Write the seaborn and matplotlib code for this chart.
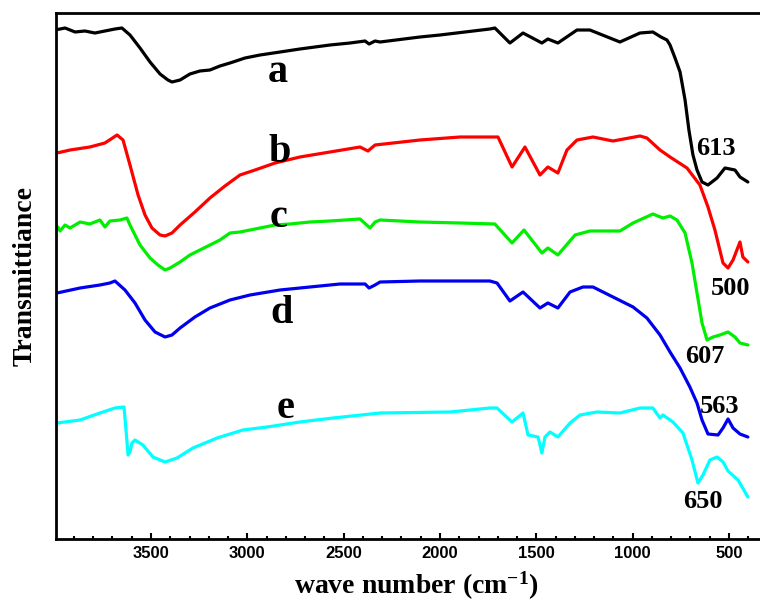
import numpy as np
import pandas as pd
import matplotlib
matplotlib.use("Agg")
import matplotlib.pyplot as plt
import seaborn as sns

# ---- data (wavenumber in cm^-1, transmittance in arbitrary offset units) ----
wn_a = [3998, 3946, 3894, 3843, 3791, 3739, 3687, 3651, 3609, 3557, 3505, 3453, 3412, 3391,
        3349, 3298, 3246, 3194, 3142, 3090, 3012, 2934, 2830, 2727, 2571, 2467, 2389, 2368,
        2337, 2311, 2104, 2000, 1741, 1715, 1637, 1569, 1471, 1440, 1388, 1289, 1222, 1066,
        962, 895, 853, 822, 806, 780, 754, 728, 708, 687, 666, 640, 609, 562, 521, 469, 443, 402]
t_a = [509, 511, 507, 508, 506, 508, 510, 511, 504, 491, 477, 465, 459, 457,
       459, 465, 468, 469, 473, 476, 481, 484, 487, 490, 494, 496, 498, 495,
       498, 497, 502, 504, 510, 511, 496, 506, 496, 500, 496, 509, 509, 497,
       506, 507, 502, 499, 494, 481, 467, 439, 409, 384, 369, 357, 354, 361, 371, 369, 362, 357]

wn_b = [3988, 3920, 3817, 3739, 3676, 3645, 3609, 3567, 3531, 3495, 3453, 3427, 3391, 3349,
        3272, 3194, 3116, 3038, 2960, 2856, 2727, 2571, 2415, 2374, 2337, 2104, 1896, 1699,
        1626, 1559, 1481, 1440, 1388, 1341, 1289, 1206, 1102, 962, 926, 858, 806, 718, 651,
        609, 573, 531, 505, 479, 443, 428, 402]
t_b = [386, 389, 392, 396, 404, 399, 374, 344, 324, 311, 304, 303, 306, 314,
       327, 341, 353, 364, 369, 376, 382, 387, 392, 388, 394, 399, 402, 402,
       372, 392, 364, 372, 366, 389, 399, 402, 398, 403, 401, 389, 382, 371, 354,
       332, 309, 276, 271, 279, 297, 282, 277]

wn_c = [3983, 3972, 3946, 3920, 3868, 3817, 3765, 3739, 3713, 3661, 3625, 3609, 3583, 3557,
        3505, 3464, 3427, 3401, 3375, 3349, 3298, 3246, 3194, 3142, 3090, 3038, 2934, 2856,
        2779, 2675, 2571, 2415, 2363, 2337, 2311, 2104, 1896, 1715, 1626, 1564, 1471, 1440,
        1388, 1299, 1222, 1066, 998, 895, 843, 806, 770, 728, 692, 666, 640, 614, 583, 547,
        505, 469, 443, 402]
t_c = [312, 308, 314, 311, 317, 315, 319, 312, 318, 319, 321, 314, 304, 294,
       281, 274, 269, 271, 274, 277, 284, 289, 294, 299, 306, 307, 311, 314,
       315, 317, 318, 320, 311, 317, 319, 317, 316, 315, 296, 309, 286, 291,
       284, 304, 308, 308, 316, 325, 321, 323, 319, 306, 276, 246, 216, 199, 202, 204,
       207, 202, 196, 194]

wn_d = [3988, 3868, 3765, 3713, 3687, 3635, 3583, 3531, 3479, 3427, 3391, 3349, 3272, 3194,
        3090, 2986, 2830, 2675, 2519, 2389, 2368, 2337, 2311, 2104, 1741, 1704, 1637, 1569,
        1481, 1440, 1388, 1325, 1258, 1206, 1102, 998, 926, 858, 806, 754, 703, 666, 640,
        609, 557, 531, 505, 479, 443, 402]
t_d = [246, 251, 254, 256, 258, 249, 236, 219, 207, 202, 204, 211, 222, 231,
       239, 244, 249, 252, 255, 255, 251, 254, 257, 258, 258, 256, 238, 247,
       231, 236, 231, 247, 252, 252, 242, 232, 221, 204, 187, 171, 152, 136, 119,
       105, 104, 111, 120, 111, 105, 102]

wn_e = [3988, 3868, 3765, 3687, 3640, 3630, 3619, 3609, 3599, 3583, 3542, 3490, 3427, 3365,
        3282, 3157, 3023, 2898, 2727, 2555, 2311, 1948, 1741, 1704, 1626, 1569, 1543, 1491,
        1471, 1455, 1429, 1388, 1325, 1273, 1185, 1066, 962, 895, 858, 843, 791, 739, 692,
        661, 635, 599, 562, 531, 505, 453, 402]
t_e = [116, 119, 126, 131, 132, 110, 84, 87, 96, 99, 94, 82, 77, 81,
       91, 101, 109, 112, 117, 121, 126, 127, 131, 131, 117, 126, 104, 102,
       86, 102, 107, 102, 116, 124, 127, 126, 131, 131, 121, 124, 117, 106, 79,
       56, 64, 79, 82, 77, 68, 59, 42]

samples = ["a", "b", "c", "d", "e"]
colors = ["#000000", "#FF0000", "#00EE00", "#0000EE", "#00FFFF"]

# curve label positions (wavenumber, baseline)
label_x = [2841, 2830, 2836, 2820, 2799]
label_y = [457, 377, 312, 216, 121]
peak_text = ["613", "500", "607", "563", "650"]
peak_x = [568, 490, 625, 547, 635]
peak_y = [384, 244, 176, 126, 31]

xticks = [3500, 3000, 2500, 2000, 1500, 1000, 500]

frames = []
for s, w, t in zip(samples, [wn_a, wn_b, wn_c, wn_d, wn_e], [t_a, t_b, t_c, t_d, t_e]):
    frames.append(pd.DataFrame({"wn": w, "T": t, "sample": s}))
df = pd.concat(frames, ignore_index=True)

sns.set_style("white")
plt.rcParams["text.color"] = "black"
plt.rcParams["axes.labelcolor"] = "black"
plt.rcParams["xtick.color"] = "black"
plt.rcParams["mathtext.fontset"] = "custom"
plt.rcParams["mathtext.bf"] = "Liberation Serif:bold"
plt.rcParams["mathtext.rm"] = "Liberation Serif:bold"
plt.rcParams["mathtext.default"] = "bf"

fig = plt.figure(figsize=(7.6, 6), dpi=100)
ax = fig.add_axes([56 / 760, 61 / 600, 720 / 760, 526 / 600])

sns.lineplot(data=df, x="wn", y="T", hue="sample", palette=dict(zip(samples, colors)),
             sort=False, estimator=None, legend=False, linewidth=2.3, ax=ax)

ax.set_xlim(3993, 256)
ax.set_ylim(0, 526)
ax.set_xticks(xticks)
ax.set_xticks(np.arange(3900, 299, -100), minor=True)
ax.set_yticks([])
ax.tick_params(axis="x", which="major", direction="in", length=4, width=1.5, pad=5,
               labelsize=12, bottom=True, top=False, colors="black")
ax.tick_params(axis="x", which="minor", direction="in", length=2.5, width=1.5,
               bottom=True, top=False, colors="black")
for lab in ax.get_xticklabels():
    lab.set_fontfamily("Liberation Sans")
    lab.set_fontweight("bold")

for side in ["left", "bottom", "top"]:
    ax.spines[side].set_linewidth(2.0)
    ax.spines[side].set_color("black")
ax.spines["right"].set_visible(False)

ax.set_xlabel("wave number (cm$^{-1}$)", fontsize=20, fontweight="bold",
              family="Liberation Serif", labelpad=6, color="black")
ax.set_ylabel("Transmittiance", fontsize=20, fontweight="bold",
              family="Liberation Serif", labelpad=13, color="black")

for s, x, y in zip(samples, label_x, label_y):
    ax.text(x, y, s, fontsize=29, fontweight="bold", family="Liberation Serif",
            ha="center", va="baseline", color="black")
for s, x, y in zip(peak_text, peak_x, peak_y):
    ax.text(x, y, s, fontsize=19, fontweight="bold", family="Liberation Serif",
            ha="center", va="baseline", color="black")

fig.savefig("out.png", dpi=100)
